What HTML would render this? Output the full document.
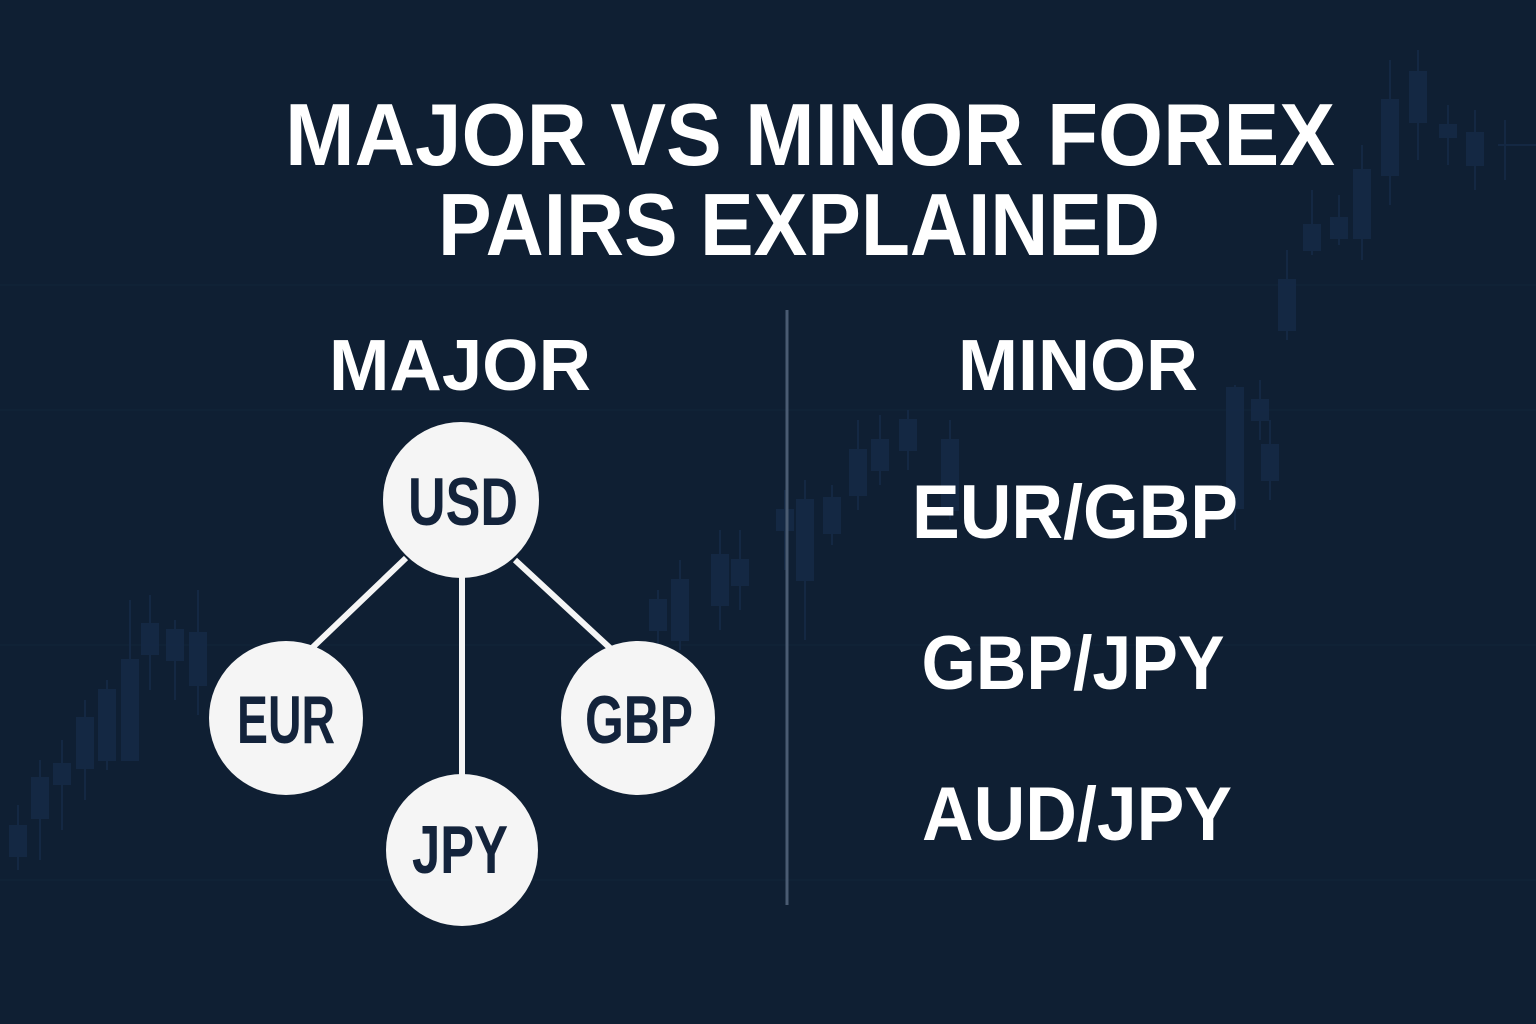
<!DOCTYPE html>
<html><head><meta charset="utf-8"><style>
html,body{margin:0;padding:0;background:#0f1f33;}
svg{display:block}
</style></head><body>
<svg width="1536" height="1024" viewBox="0 0 1536 1024" xmlns="http://www.w3.org/2000/svg">
<rect width="1536" height="1024" fill="#0f1f33"/>
<g stroke="#152840" stroke-width="1" opacity="0.6">
<line x1="0" y1="410" x2="1536" y2="410"/><line x1="0" y1="645" x2="1536" y2="645"/><line x1="0" y1="880" x2="1536" y2="880"/><line x1="0" y1="285" x2="1536" y2="285"/>
</g>
<g fill="#152a46" stroke="#152a46" stroke-width="2" opacity="0.85">
<line x1="18" y1="805" x2="18" y2="870"/><rect x="10" y="826" width="16" height="30"/>
<line x1="40" y1="760" x2="40" y2="860"/><rect x="32" y="778" width="16" height="40"/>
<line x1="62" y1="740" x2="62" y2="830"/><rect x="54" y="764" width="16" height="20"/>
<line x1="85" y1="700" x2="85" y2="800"/><rect x="77" y="718" width="16" height="50"/>
<line x1="107" y1="680" x2="107" y2="770"/><rect x="99" y="690" width="16" height="70"/>
<line x1="130" y1="600" x2="130" y2="740"/><rect x="122" y="660" width="16" height="100"/>
<line x1="150" y1="595" x2="150" y2="690"/><rect x="142" y="624" width="16" height="30"/>
<line x1="175" y1="620" x2="175" y2="700"/><rect x="167" y="630" width="16" height="30"/>
<line x1="198" y1="590" x2="198" y2="715"/><rect x="190" y="633" width="16" height="52"/>
<line x1="680" y1="560" x2="680" y2="650"/><rect x="672" y="580" width="16" height="60"/>
<line x1="658" y1="590" x2="658" y2="670"/><rect x="650" y="600" width="16" height="30"/>
<line x1="720" y1="530" x2="720" y2="630"/><rect x="712" y="555" width="16" height="50"/>
<line x1="740" y1="530" x2="740" y2="610"/><rect x="732" y="560" width="16" height="25"/>
<line x1="785" y1="490" x2="785" y2="570"/><rect x="777" y="510" width="16" height="20"/>
<line x1="805" y1="480" x2="805" y2="640"/><rect x="797" y="500" width="16" height="80"/>
<line x1="832" y1="485" x2="832" y2="545"/><rect x="824" y="498" width="16" height="35"/>
<line x1="858" y1="420" x2="858" y2="510"/><rect x="850" y="450" width="16" height="45"/>
<line x1="880" y1="415" x2="880" y2="485"/><rect x="872" y="440" width="16" height="30"/>
<line x1="908" y1="410" x2="908" y2="470"/><rect x="900" y="420" width="16" height="30"/>
<line x1="950" y1="420" x2="950" y2="520"/><rect x="942" y="440" width="16" height="70"/>
<line x1="1270" y1="420" x2="1270" y2="500"/><rect x="1262" y="445" width="16" height="35"/>
<line x1="1260" y1="380" x2="1260" y2="440"/><rect x="1252" y="400" width="16" height="20"/>
<line x1="1235" y1="385" x2="1235" y2="530"/><rect x="1227" y="388" width="16" height="120"/>
<line x1="1287" y1="250" x2="1287" y2="340"/><rect x="1279" y="280" width="16" height="50"/>
<line x1="1312" y1="190" x2="1312" y2="255"/><rect x="1304" y="225" width="16" height="25"/>
<line x1="1339" y1="195" x2="1339" y2="245"/><rect x="1331" y="218" width="16" height="20"/>
<line x1="1362" y1="145" x2="1362" y2="260"/><rect x="1354" y="170" width="16" height="68"/>
<line x1="1390" y1="60" x2="1390" y2="205"/><rect x="1382" y="100" width="16" height="75"/>
<line x1="1418" y1="50" x2="1418" y2="160"/><rect x="1410" y="72" width="16" height="50"/>
<line x1="1448" y1="105" x2="1448" y2="165"/><rect x="1440" y="125" width="16" height="12"/>
<line x1="1475" y1="110" x2="1475" y2="190"/><rect x="1467" y="133" width="16" height="32"/>
<line x1="1505" y1="120" x2="1505" y2="180"/><line x1="1498" y1="145" x2="1536" y2="145"/>
</g>
<g fill="#ffffff" font-family="Liberation Sans, sans-serif" font-weight="bold" text-anchor="middle">
<text x="810" y="165" font-size="88" textLength="1050" lengthAdjust="spacingAndGlyphs">MAJOR VS MINOR FOREX</text>
<text x="799" y="255" font-size="88" textLength="722" lengthAdjust="spacingAndGlyphs">PAIRS EXPLAINED</text>
<text x="460" y="390" font-size="72" textLength="262" lengthAdjust="spacingAndGlyphs">MAJOR</text>
<text x="1078" y="390" font-size="72" textLength="240" lengthAdjust="spacingAndGlyphs">MINOR</text>
<text x="1075" y="538" font-size="76" textLength="326" lengthAdjust="spacingAndGlyphs">EUR/GBP</text>
<text x="1073" y="689" font-size="76" textLength="303" lengthAdjust="spacingAndGlyphs">GBP/JPY</text>
<text x="1077" y="840" font-size="76" textLength="310" lengthAdjust="spacingAndGlyphs">AUD/JPY</text>
</g>
<line x1="787" y1="310" x2="787" y2="905" stroke="#4a5b72" stroke-width="3"/>
<g stroke="#f5f5f5" stroke-width="6">
<line x1="406" y1="558" x2="312" y2="648"/>
<line x1="462" y1="575" x2="462" y2="775"/>
<line x1="515" y1="560" x2="610" y2="648"/>
</g>
<g fill="#f5f5f5">
<circle cx="461" cy="500" r="78"/>
<circle cx="286" cy="718" r="77"/>
<circle cx="462" cy="850" r="76"/>
<circle cx="638" cy="718" r="77"/>
</g>
<g fill="#13233b" font-family="Liberation Sans, sans-serif" font-weight="bold" text-anchor="middle" font-size="68">
<text x="463" y="525" textLength="110" lengthAdjust="spacingAndGlyphs">USD</text>
<text x="286" y="743" textLength="98" lengthAdjust="spacingAndGlyphs">EUR</text>
<text x="460" y="873" textLength="96" lengthAdjust="spacingAndGlyphs">JPY</text>
<text x="639" y="743" textLength="108" lengthAdjust="spacingAndGlyphs">GBP</text>
</g>
</svg>
</body></html>
